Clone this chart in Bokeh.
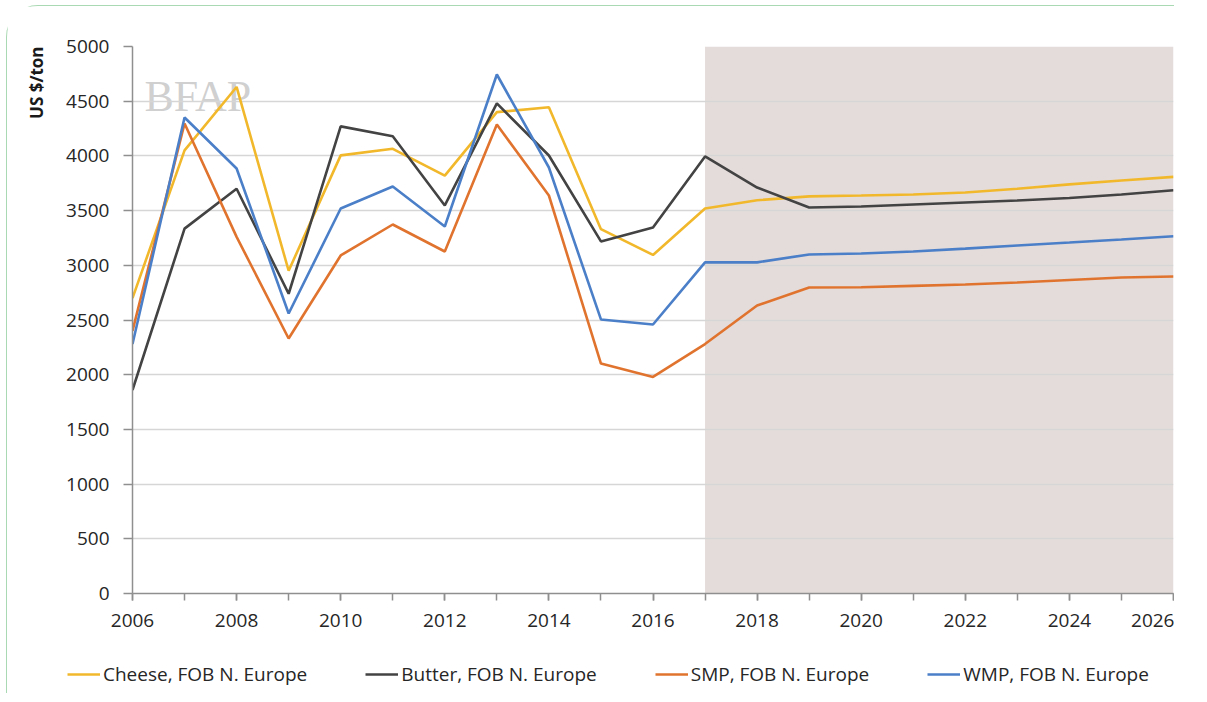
from bokeh.plotting import figure
from bokeh.models import (ColumnDataSource, Legend, LegendItem, BoxAnnotation, Label,
                          FixedTicker, Range1d, Title)
from bokeh.layouts import column
from bokeh.embed import file_html
from bokeh.resources import INLINE

years = list(range(2006, 2027))
cheese = [2700, 4050, 4630, 2950, 4005, 4065, 3820, 4400, 4445, 3330, 3095,
          3520, 3595, 3630, 3638, 3647, 3665, 3700, 3740, 3775, 3808]
butter = [1860, 3335, 3700, 2740, 4270, 4180, 3547, 4480, 4004, 3218, 3345,
          3995, 3711, 3528, 3537, 3556, 3574, 3592, 3615, 3647, 3686]
smp = [2400, 4296, 3260, 2331, 3090, 3373, 3126, 4287, 3638, 2102, 1980,
       2280, 2632, 2797, 2800, 2812, 2824, 2843, 2866, 2888, 2898]
wmp = [2280, 4351, 3885, 2559, 3519, 3720, 3355, 4744, 3894, 2505, 2459,
       3027, 3027, 3099, 3108, 3126, 3152, 3181, 3208, 3236, 3266]
series_keys = ["cheese", "butter", "smp", "wmp"]
series_names = ["Cheese, FOB N. Europe", "Butter, FOB N. Europe",
                "SMP, FOB N. Europe", "WMP, FOB N. Europe"]
series_colors = ["#f2b82c", "#434343", "#e0742f", "#4b7fc8"]
forecast_start = 2017
y_ticks = list(range(0, 5001, 500))
x_ticks = list(range(2006, 2027, 2))

FONT = "Open Sans"

p = figure(frame_width=1041, frame_height=547, output_backend="svg", toolbar_location=None,
           x_range=Range1d(2006, 2026), y_range=Range1d(0, 5000),
           min_border_left=125, min_border_right=1, min_border_top=40,
           min_border_bottom=50, background_fill_color="white",
           border_fill_color="white", outline_line_color=None)

# forecast shading
p.add_layout(BoxAnnotation(left=forecast_start, right=years[-1], bottom=0, top=5000,
                           fill_color="#e4dcda", fill_alpha=1, line_color=None,
                           level="image"))

# watermark
p.add_layout(Label(x=2006, y=5000, x_offset=12, y_offset=-74, text="BFAP",
                   text_font="Liberation Serif",
                   text_font_size="44px", text_color="#c4c4c4", text_alpha=0.8,
                   level="image"))

src = ColumnDataSource(dict(year=years, cheese=cheese, butter=butter, smp=smp, wmp=wmp))
for key, col in zip(series_keys, series_colors):
    p.line("year", key, source=src, line_color=col, line_width=2.6)

# axes
p.xaxis.ticker = FixedTicker(ticks=x_ticks, minor_ticks=years)
p.yaxis.ticker = FixedTicker(ticks=y_ticks)
for ax in (p.xaxis, p.yaxis):
    ax.axis_line_color = "#8f8f8f"
    ax.axis_line_width = 1.5
    ax.major_tick_line_color = "#8f8f8f"
    ax.major_tick_line_width = 1.5
    ax.major_tick_in = 0
    ax.major_label_text_font = FONT
    ax.major_label_text_font_size = "19px"
    ax.major_label_text_color = "#262626"
p.xaxis.minor_tick_line_color = "#8f8f8f"
p.xaxis.minor_tick_line_width = 1.5
p.xaxis.minor_tick_in = 0
p.xaxis.minor_tick_out = 7
p.xaxis.major_tick_out = 7
p.xaxis.major_label_standoff = 13
p.yaxis.major_tick_out = 9
p.yaxis.minor_tick_line_color = None
p.yaxis.major_label_standoff = 14

p.xgrid.grid_line_color = None
p.ygrid.grid_line_color = "#d6d6d6"
p.ygrid.grid_line_width = 1.5

p.add_layout(Title(text="US $/ton", align="right", text_font=FONT,
                   text_font_style="bold", text_font_size="17px",
                   text_color="#1a1a1a", standoff=31), "left")

# legend strip (separate figure below the plot; its lines lie outside its range)
lg = figure(width=1167, height=50, output_backend="svg", toolbar_location=None,
            x_range=Range1d(0, 1), y_range=Range1d(0, 1),
            min_border_left=0, min_border_right=0, min_border_top=0,
            min_border_bottom=0, outline_line_color=None,
            background_fill_color="white", border_fill_color="white")
lg.axis.visible = False
lg.grid.visible = False

legend_x = 0
try:
    lg.frame_align = False
    p.frame_align = False
    legend_x = 60
except Exception:
    legend_x = 0

items = []
for key, name, col in zip(series_keys, series_names, series_colors):
    r = lg.line("year", key, source=src, line_color=col, line_width=2.6)
    items.append(LegendItem(label=name, renderers=[r]))
legend = Legend(items=items, orientation="horizontal", location=(legend_x, 6),
                padding=0, margin=0, spacing=58 if legend_x else 44, label_standoff=3,
                glyph_width=33, glyph_height=20, label_height=20,
                label_text_font=FONT, label_text_font_size="19px",
                label_text_color="#262626", border_line_color=None,
                background_fill_alpha=0)
lg.add_layout(legend)

layout = column(p, lg, spacing=0)
layout.styles = {"margin-left": "6px", "margin-top": "5px",
                 "border-left": "1.5px solid #a9d9b2", "border-top": "1.5px solid #a9d9b2",
                 "border-top-left-radius": "32px"}

open("out.html", "w").write(file_html(layout, INLINE))
